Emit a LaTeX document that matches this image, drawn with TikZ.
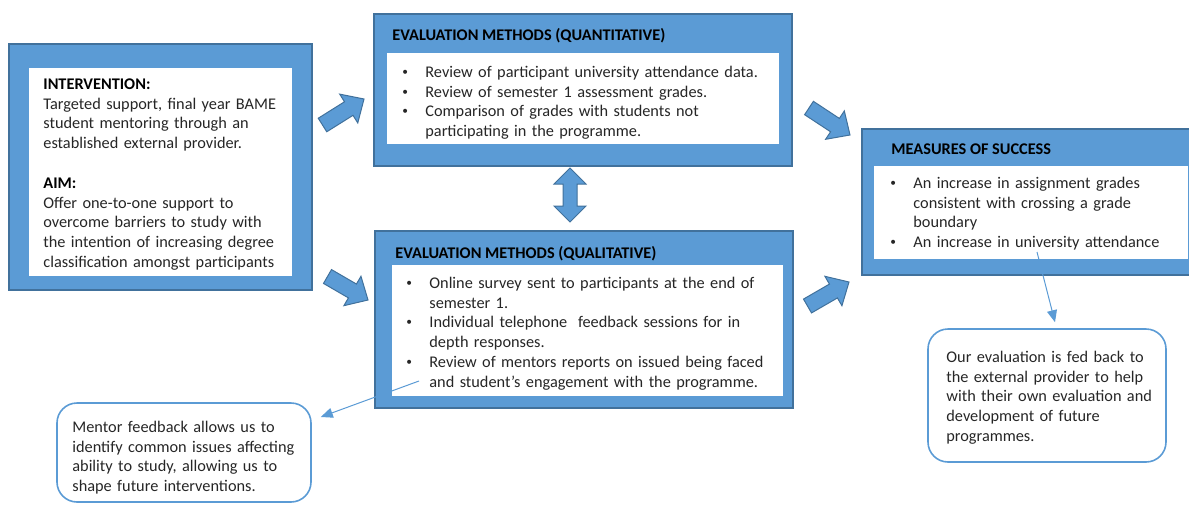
\documentclass[tikz,border=0pt]{standalone}
\usepackage{fontspec}
\setmainfont{Carlito}
\usepackage{graphicx}
\usepackage{tikz}
\usetikzlibrary{calc}
\usetikzlibrary{arrows.meta}
\usetikzlibrary{positioning}
\usetikzlibrary{fit}
\definecolor{boxblue}{RGB}{91,155,213}
\definecolor{edgeblue}{RGB}{65,113,156}
\definecolor{txtgray}{RGB}{38,38,38}

\newcommand{\dfont}{\fontsize{8.15pt}{9.9pt}\selectfont\lineskip=0pt}
\newcommand{\bitem}[1]{\noindent\makebox[11.5pt][l]{\raisebox{.25ex}{\scalebox{.7}{\textbullet}}}\parbox[t]{175pt}{\raggedright\strut#1\strut}\par}
\newcommand{\fatarrow}[2]{%
	\draw[fatarr] ($(#1)!4pt!90:(#2)$)
	-- ($(#2)!9pt!(#1)!4pt!90:(#2)$)
	-- ($(#2)!9pt!(#1)!8.5pt!90:(#2)$)
	-- (#2)
	-- ($(#2)!9pt!(#1)!8.5pt!-90:(#2)$)
	-- ($(#2)!9pt!(#1)!4pt!-90:(#2)$)
	-- ($(#1)!4pt!-90:(#2)$) -- cycle;}
\newcommand{\dblarrow}[2]{%
	\draw[fatarr] (#1)
	-- ($(#1)!8pt!(#2)!8pt!90:(#2)$)
	-- ($(#1)!8pt!(#2)!3.5pt!90:(#2)$)
	-- ($(#2)!8pt!(#1)!3.5pt!90:(#2)$)
	-- ($(#2)!8pt!(#1)!8pt!90:(#2)$)
	-- (#2)
	-- ($(#2)!8pt!(#1)!8pt!-90:(#2)$)
	-- ($(#2)!8pt!(#1)!3.5pt!-90:(#2)$)
	-- ($(#1)!8pt!(#2)!3.5pt!-90:(#2)$)
	-- ($(#1)!8pt!(#2)!8pt!-90:(#2)$) -- cycle;}

\tikzset{
	outerbox/.style={draw=edgeblue,fill=boxblue,line width=0.6pt,inner sep=0pt},
	innerbox/.style={fill=white,inner sep=0pt},
	callout/.style={draw=boxblue,line width=0.8pt,rounded corners=10pt,inner sep=0pt},
	bodytext/.style={anchor=north west,inner sep=0pt,align=left,text=txtgray,font=\dfont},
	titletext/.style={anchor=north west,inner sep=0pt,text=black,font=\dfont\bfseries},
	fatarr/.style={draw=edgeblue,fill=boxblue,line width=0.5pt,line join=miter},
	thinarr/.style={draw=boxblue,line width=0.5pt,-{Triangle[length=6pt,width=5pt]}}
}

\begin{document}
\begin{tikzpicture}[x=0.5pt,y=-0.5pt]
	\useasboundingbox (0,0) rectangle (1189,504);
	
	% boxes
	\node[outerbox,fit={(9,44) (312,290)}] (intv) {};
	\node[innerbox,fit={(29,68) (292,276)}] (intv-in) {};
	\node[outerbox,fit={(374,14) (792,166)}] (qnt) {};
	\node[innerbox,fit={(387,53) (779,144)}] (qnt-in) {};
	\node[outerbox,fit={(375,231) (793,408)}] (qlt) {};
	\node[innerbox,fit={(392,265) (783,396)}] (qlt-in) {};
	\node[outerbox,fit={(862,129) (1194,275)}] (msr) {};
	\node[innerbox,fit={(874,166) (1188,259)}] (msr-in) {};
	\node[callout,fit={(928,329) (1166,462)}] (fbr) {};
	\node[callout,fit={(57,403) (311,502)}] (fbl) {};
	
	% texts
	\node at (43,75) [bodytext,text width=170pt] (intv-txt) {\strut\textbf{\color{black}INTERVENTION:}\\
		Targeted support, final year BAME\\
		student mentoring through an\\
		established external provider.\\[9.9pt]
		\textbf{\color{black}AIM:}\\
		Offer one-to-one support to\\
		overcome barriers to study with\\
		the intention of increasing degree\\
		classification amongst participants};
	
	\node at (392,26) [titletext] (qnt-title) {\strut EVALUATION METHODS (QUANTITATIVE)};
	\node at (402,63) [bodytext,text width=190pt] (qnt-txt) {%
		\bitem{Review of participant university attendance data.}
		\bitem{Review of semester 1 assessment grades.}
		\bitem{Comparison of grades with students not\\ participating in the programme.}};
	
	\node at (395,244) [titletext] (qlt-title) {\strut EVALUATION METHODS (QUALITATIVE)};
	\node at (406,274) [bodytext,text width=190pt] (qlt-txt) {%
		\bitem{Online survey sent to participants at the end of\\ semester 1.}
		\bitem{Individual telephone\ \ feedback sessions for in\\ depth responses.}
		\bitem{Review of mentors reports on issued being faced\\ and student's engagement with the programme.}};
	
	\node at (891,140) [titletext] (msr-title) {\strut MEASURES OF SUCCESS};
	\node at (890,174) [bodytext,text width=190pt] (msr-txt) {%
		\bitem{An increase in assignment grades\\ consistent with crossing a grade\\ boundary}
		\bitem{An increase in university attendance}};
	
	\node at (946,348) [bodytext,text width=140pt] (fbr-txt) {\strut Our evaluation is fed back to\\
		the external provider to help\\
		with their own evaluation and\\
		development of future\\
		programmes.};
	\node at (72,418) [bodytext,text width=140pt] (fbl-txt) {\strut Mentor feedback allows us to\\
		identify common issues affecting\\
		ability to study, allowing us to\\
		shape future interventions.};
	
	% block arrows
	\coordinate (a1s) at (322.5,125);
	\coordinate (a1e) at (364,99);
	\coordinate (a2s) at (327.5,276.5);
	\coordinate (a2e) at (368,300);
	\coordinate (a3s) at (809,108);
	\coordinate (a3e) at (850,135);
	\coordinate (a4s) at (807.5,306);
	\coordinate (a4e) at (849,282);
	\coordinate (d1) at (570,168);
	\coordinate (d2) at (570,222);
	\fatarrow{a1s}{a1e}
	\fatarrow{a2s}{a2e}
	\fatarrow{a3s}{a3e}
	\fatarrow{a4s}{a4e}
	\dblarrow{d1}{d2}
	
	% feedback arrows
	\coordinate (msr-pt) at (1037,252);
	\coordinate (qlt-pt) at (419,381);
	\draw[thinarr] (msr-pt) -- ([xshift=4pt,yshift=3pt]fbr.north);
	\draw[thinarr] (qlt-pt) -- ([xshift=4.5pt,yshift=17.75pt]fbl.east);
\end{tikzpicture}
\end{document}
